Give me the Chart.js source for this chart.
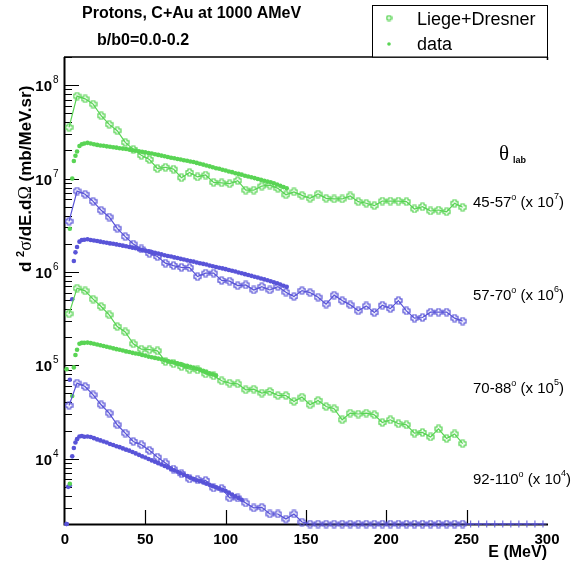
<!DOCTYPE html>
<html>
<head>
<meta charset="utf-8">
<script src="https://cdn.jsdelivr.net/npm/chart.js@4.4.1/dist/chart.umd.min.js"></script>
<style>
  html, body { margin: 0; padding: 0; background: #fff; }
  canvas { display: block; }
</style>
</head>
<body>
<canvas id="chart" width="576" height="564"></canvas>
<script>
const GREEN = '#59d454';
const BLUE = '#5954d8';
const SANS = '"Liberation Sans", Arial, sans-serif';
const SERIF = '"Liberation Serif", "Times New Roman", serif';

// Liege+Dresner bins (MeV)
const modelE = [2.5, 7.5, 12.5, 17.5, 22.5, 27.5, 32.5, 37.5, 42.5, 47.5,
  52.5, 57.5, 62.5, 67.5, 72.5, 77.5, 82.5, 87.5, 92.5, 97.5,
  102.5, 107.5, 112.5, 117.5, 122.5, 127.5, 132.5, 137.5, 142.5, 147.5,
  152.5, 157.5, 162.5, 167.5, 172.5, 177.5, 182.5, 187.5, 192.5, 197.5,
  202.5, 207.5, 212.5, 217.5, 222.5, 227.5, 232.5, 237.5, 242.5, 247.5,
  252.5, 257.5, 262.5, 267.5, 272.5, 277.5, 282.5, 287.5, 292.5, 297.5];

const model45 = [3.53e7, 7.63e7, 7.13e7, 6.26e7, 4.70e7, 3.80e7, 3.25e7, 2.44e7, 2.05e7, 1.77e7,
  1.60e7, 1.28e7, 1.32e7, 1.26e7, 1.02e7, 1.16e7, 1.04e7, 1.09e7, 9.1e6, 9.0e6,
  8.8e6, 9.5e6, 7.5e6, 7.5e6, 8.3e6, 8.5e6, 7.85e6, 6.7e6, 7.2e6, 6.6e6,
  6.14e6, 6.82e6, 6.14e6, 6.04e6, 6.04e6, 6.5e6, 5.65e6, 5.43e6, 5.12e6, 5.74e6,
  5.74e6, 5.74e6, 5.65e6, 4.72e6, 4.99e6, 4.49e6, 4.6e6, 4.41e6, 5.43e6, 4.92e6];

const model57 = [3.48e6, 7.35e6, 6.78e6, 5.70e6, 4.57e6, 3.87e6, 2.93e6, 2.39e6, 1.99e6, 1.76e6,
  1.58e6, 1.46e6, 1.24e6, 1.17e6, 1.12e6, 1.11e6, 8.9e5, 9.7e5, 9.7e5, 8.1e5,
  7.96e5, 7.13e5, 7.26e5, 6.41e5, 6.96e5, 6.41e5, 6.96e5, 6.07e5, 5.45e5, 6.31e5,
  6.01e5, 5.36e5, 4.52e5, 5.64e5, 4.93e5, 4.44e5, 3.83e5, 4.33e5, 3.67e5, 4.40e5,
  4.05e5, 4.93e5, 3.83e5, 3.20e5, 3.25e5, 3.71e5, 3.71e5, 3.71e5, 3.20e5, 2.97e5];

const model70 = [3.56e5, 6.70e5, 6.27e5, 5.11e5, 4.26e5, 3.47e5, 2.60e5, 2.28e5, 1.70e5, 1.49e5,
  1.47e5, 1.43e5, 1.10e5, 1.04e5, 9.7e4, 9.1e4, 8.95e4, 8.1e4, 7.72e4, 6.83e4,
  6.45e4, 6.34e4, 5.47e4, 5.56e4, 5.04e4, 5.25e4, 4.75e4, 4.75e4, 4.10e4, 4.57e4,
  3.78e4, 4.21e4, 3.62e4, 3.43e4, 2.61e4, 3.08e4, 3.01e4, 3.08e4, 2.96e4, 2.44e4,
  2.61e4, 2.37e4, 2.31e4, 1.88e4, 1.91e4, 1.71e4, 2.09e4, 1.65e4, 1.84e4, 1.45e4];

const model92 = [3.72e4, 6.45e4, 5.93e4, 4.83e4, 3.78e4, 3.08e4, 2.31e4, 1.88e4, 1.53e4, 1.41e4,
  1.23e4, 1.04e4, 9.0e3, 7.76e3, 6.92e3, 6.07e3, 5.96e3, 5.86e3, 4.86e3, 4.81e3,
  3.80e3, 3.80e3, 3.36e3, 2.97e3, 3.02e3, 2.56e3, 2.56e3, 2.26e3, 2.56e3, 2.10e3,
  2000, 2000, 2000, 2000, 2000, 2000, 2000, 2000, 2000, 2000,
  2000, 2000, 2000, 2000, 2000, 2000, 2000, 2000, 2000, 2000,
  2000, 2000, 2000, 2000, 2000, 2000, 2000, 2000, 2000, 2000];

// measured data energies (MeV)
const dataE = [1, 2, 3, 4.5, 5.5, 6.5, 7.5, 9, 10.5,
  12, 14, 16, 18, 20, 22, 24, 26, 28, 30, 32, 34, 36, 38, 40, 42, 44, 46, 48, 50,
  52, 54, 56, 58, 60, 62, 64, 66, 68, 70, 72, 74, 76, 78, 80, 82, 84, 86, 88, 90,
  92, 94, 96, 98, 100, 102, 104, 106, 108, 110, 112, 114, 116, 118, 120, 122, 124,
  126, 128, 130, 132, 134, 136, 138];

const data45 = [9.1e4, null, 2.9e6, 1.0e7, 1.54e7, 1.75e7, 1.95e7, 2.23e7, 2.33e7,
  2.37e7, 2.41e7, 2.37e7, 2.33e7, 2.29e7, 2.26e7, 2.24e7, 2.21e7, 2.19e7, 2.16e7,
  2.14e7, 2.11e7, 2.09e7, 2.07e7, 2.04e7, 2.01e7, 1.99e7, 1.96e7, 1.93e7, 1.91e7,
  1.87e7, 1.85e7, 1.82e7, 1.79e7, 1.76e7, 1.73e7, 1.70e7, 1.67e7, 1.65e7, 1.62e7,
  1.60e7, 1.57e7, 1.55e7, 1.52e7, 1.50e7, 1.47e7, 1.44e7, 1.41e7, 1.38e7, 1.35e7,
  1.32e7, 1.29e7, 1.27e7, 1.24e7, 1.22e7, 1.19e7, 1.17e7, 1.14e7, 1.12e7, 1.10e7,
  1.07e7, 1.05e7, 1.03e7, 1.01e7, 9.89e6, 9.68e6, 9.48e6, 9.29e6, 9.10e6, 8.91e6,
  8.63e6, 8.36e6, 8.09e6, 7.85e6];

const data57 = [2000, null, 7.0e4, 5.1e5, 1.31e6, 1.62e6, 1.85e6, 2.11e6, 2.2e6,
  2.21e6, 2.24e6, 2.20e6, 2.17e6, 2.14e6, 2.11e6, 2.08e6, 2.05e6, 2.02e6, 2.00e6,
  1.97e6, 1.94e6, 1.91e6, 1.88e6, 1.85e6, 1.82e6, 1.79e6, 1.75e6, 1.72e6, 1.69e6,
  1.66e6, 1.63e6, 1.60e6, 1.57e6, 1.54e6, 1.51e6, 1.48e6, 1.46e6, 1.43e6, 1.41e6,
  1.38e6, 1.36e6, 1.33e6, 1.31e6, 1.29e6, 1.26e6, 1.24e6, 1.22e6, 1.20e6, 1.17e6,
  1.15e6, 1.13e6, 1.11e6, 1.09e6, 1.07e6, 1.05e6, 1.03e6, 1.01e6, 9.86e5, 9.66e5,
  9.46e5, 9.27e5, 9.08e5, 8.89e5, 8.71e5, 8.51e5, 8.32e5, 8.13e5, 7.94e5, 7.76e5,
  7.55e5, 7.33e5, 7.11e5, 6.92e5];

const data70 = [null, null, 5.4e3, 4.7e4, 9.5e4, 1.29e5, 1.47e5, 1.70e5, 1.74e5,
  1.74e5, 1.75e5, 1.73e5, 1.70e5, 1.67e5, 1.64e5, 1.61e5, 1.58e5, 1.55e5, 1.52e5,
  1.49e5, 1.47e5, 1.44e5, 1.41e5, 1.39e5, 1.36e5, 1.34e5, 1.32e5, 1.29e5, 1.27e5,
  1.24e5, 1.22e5, 1.20e5, 1.18e5, 1.16e5, 1.13e5, 1.11e5, 1.09e5, 1.07e5, 1.05e5,
  1.03e5, 1.00e5, 9.86e4, 9.66e4, 9.46e4, 9.20e4, 8.95e4, 8.71e4, 8.45e4, 8.22e4,
  8.00e4, 7.76e4];

const data92 = [2000, 5.0e3, 5.2e3, 1.06e4, 1.30e4, 1.49e4, 1.62e4, 1.73e4, 1.75e4,
  1.72e4, 1.73e4, 1.71e4, 1.66e4, 1.61e4, 1.57e4, 1.53e4, 1.49e4, 1.44e4, 1.40e4,
  1.36e4, 1.33e4, 1.29e4, 1.25e4, 1.22e4, 1.18e4, 1.14e4, 1.10e4, 1.06e4, 1.03e4,
  9.93e3, 9.59e3, 9.29e3, 8.97e3, 8.67e3, 8.36e3, 8.07e3, 7.78e3, 7.52e3, 7.24e3,
  7.00e3, 6.75e3, 6.52e3, 6.28e3, 6.07e3, 5.89e3, 5.73e3, 5.56e3, 5.41e3, 5.25e3,
  5.09e3, 4.94e3, 4.80e3, 4.66e3, 4.52e3, 4.33e3, 4.14e3, 3.96e3, 3.80e3, 3.64e3];

const xTicks = [0, 50, 100, 150, 200, 250, 300];
const yDecades = [4, 5, 6, 7, 8];
const angleLabels = [['45-57', '7'], ['57-70', '6'], ['70-88', '5'], ['92-110', '4']];

function pts(xs, ys) {
  const out = [];
  ys.forEach((y, i) => { if (y !== null) out.push({x: xs[i], y: y}); });
  return out;
}

// open cross marker (ROOT style 28), outline only
function crossImg(color, s) {
  const c = document.createElement('canvas');
  c.width = c.height = s;
  const g = c.getContext('2d');
  const m = s / 2, a = s * 0.17, b = s / 2 - 1;
  g.beginPath();
  g.moveTo(m - a, m - b); g.lineTo(m + a, m - b); g.lineTo(m + a, m - a);
  g.lineTo(m + b, m - a); g.lineTo(m + b, m + a); g.lineTo(m + a, m + a);
  g.lineTo(m + a, m + b); g.lineTo(m - a, m + b); g.lineTo(m - a, m + a);
  g.lineTo(m - b, m + a); g.lineTo(m - b, m - a); g.lineTo(m - a, m - a);
  g.closePath();
  g.strokeStyle = color;
  g.lineWidth = 1.2;
  g.stroke();
  return c;
}

const crossG = crossImg(GREEN, 9);
const crossB = crossImg(BLUE, 9);
const crossSmall = crossImg(GREEN, 7);

function modelSet(vals, color, img) {
  return {
    data: pts(modelE, vals),
    showLine: true,
    borderColor: color,
    borderWidth: 1.2,
    backgroundColor: color,
    pointStyle: ctx => (ctx.raw && ctx.raw.x > 250) ? 'cross' : img,
    pointRadius: 3.5,
    pointBorderWidth: 1,
    clip: false
  };
}

function dataSet(vals, color) {
  return {
    data: pts(dataE, vals),
    showLine: false,
    pointStyle: 'circle',
    pointRadius: 2.3,
    pointBorderWidth: 0,
    backgroundColor: color,
    borderColor: color,
    clip: false
  };
}

function rich(ctx, x, y, parts, align) {
  let w = 0;
  parts.forEach(p => { ctx.font = p[1]; w += ctx.measureText(p[0]).width; });
  let cx = align === 'right' ? x - w : x;
  parts.forEach(p => {
    ctx.font = p[1];
    ctx.fillText(p[0], cx, y + (p[2] || 0));
    cx += ctx.measureText(p[0]).width;
  });
}

const frame = {
  id: 'frame',
  beforeDatasetsDraw(chart) {
    const ctx = chart.ctx, a = chart.chartArea;
    const xs = chart.scales.x, ys = chart.scales.y;
    ctx.save();
    ctx.strokeStyle = '#000';
    ctx.lineWidth = 2;
    ctx.beginPath();
    ctx.moveTo(a.left - 0.5, a.top);
    ctx.lineTo(a.left - 0.5, a.bottom + 0.5);
    ctx.lineTo(a.right + 1, a.bottom + 0.5);
    ctx.stroke();
    ctx.lineWidth = 1.5;
    ctx.beginPath();
    ctx.moveTo(a.left - 1, a.top);
    ctx.lineTo(a.right + 1, a.top);
    ctx.moveTo(a.right + 0.5, a.top);
    ctx.lineTo(a.right + 0.5, a.top + 3);
    ctx.stroke();
    // y ticks, inward
    ctx.lineWidth = 1.2;
    ctx.beginPath();
    for (let d = 3; d <= 8; d++) {
      for (let m = 1; m <= 9; m++) {
        const v = m * Math.pow(10, d);
        if (v < 2000 || v > 2e8) continue;
        const y = Math.round(ys.getPixelForValue(v)) + 0.5;
        const len = m === 1 ? 14 : 7;
        ctx.moveTo(a.left, y);
        ctx.lineTo(a.left + len, y);
      }
    }
    xTicks.forEach(t => {
      if (t === 0 || t === 300) return;
      const x = Math.round(xs.getPixelForValue(t)) + 0.5;
      ctx.moveTo(x, a.bottom);
      ctx.lineTo(x, a.bottom - 14);
    });
    ctx.stroke();
    ctx.restore();
  },
  afterDraw(chart) {
    const ctx = chart.ctx;
    const xs = chart.scales.x, ys = chart.scales.y;
    ctx.save();
    ctx.fillStyle = '#000';
    ctx.textBaseline = 'alphabetic';

    // titles
    ctx.font = 'bold 16px ' + SANS;
    ctx.textAlign = 'left';
    ctx.fillText('Protons, C+Au at 1000 AMeV', 82, 18);
    ctx.fillText('b/b0=0.0-0.2', 97, 45);

    // x tick labels
    ctx.font = 'bold 15px ' + SANS;
    ctx.textAlign = 'center';
    xTicks.forEach(t => ctx.fillText(String(t), xs.getPixelForValue(t), 544));
    ctx.textAlign = 'right';
    ctx.font = 'bold 16px ' + SANS;
    ctx.fillText('E (MeV)', 547, 557);

    // y tick labels
    ctx.textAlign = 'left';
    yDecades.forEach(d => {
      const y = ys.getPixelForValue(Math.pow(10, d));
      rich(ctx, 52, y + 6, [['10', 'bold 15px ' + SANS]], 'right');
      rich(ctx, 53, y - 2, [[String(d), '10px ' + SANS]]);
    });

    // y axis title
    ctx.save();
    ctx.translate(31, 272);
    ctx.rotate(-Math.PI / 2);
    rich(ctx, 0, 0, [
      ['d ', 'bold 17px ' + SANS],
      ['2', 'bold 11px ' + SANS, -7],
      ['σ', '18px ' + SERIF],
      ['/dE.d', 'bold 17px ' + SANS],
      ['Ω', '18px ' + SERIF],
      [' (mb/MeV.sr)', 'bold 17px ' + SANS]
    ]);
    ctx.restore();

    // theta label
    rich(ctx, 499, 160, [['θ', '21px ' + SERIF]]);
    rich(ctx, 513, 163, [['lab', 'bold 9px ' + SANS]]);

    // angle ranges and scale factors
    const labelY = [207, 300, 393, 484];
    angleLabels.forEach((l, i) => {
      rich(ctx, 473, labelY[i], [
        [l[0], '15px ' + SANS],
        ['o', '9px ' + SANS, -7],
        [' (x 10', '15px ' + SANS],
        [l[1], '9px ' + SANS, -8],
        [')', '15px ' + SANS]
      ]);
    });

    // legend
    ctx.fillStyle = '#fff';
    ctx.fillRect(372.5, 5.5, 175, 51.5);
    ctx.strokeStyle = '#000';
    ctx.lineWidth = 1;
    ctx.strokeRect(372.5, 5.5, 175, 51.5);
    ctx.drawImage(crossSmall, 389 - 3.5, 18 - 3.5);
    ctx.fillStyle = GREEN;
    ctx.beginPath();
    ctx.arc(389, 44, 1.8, 0, Math.PI * 2);
    ctx.fill();
    ctx.fillStyle = '#000';
    ctx.font = '18px ' + SANS;
    ctx.fillText('Liege+Dresner', 417, 25);
    ctx.fillText('data', 417, 50);
    ctx.restore();
  }
};

new Chart(document.getElementById('chart').getContext('2d'), {
  type: 'scatter',
  data: {
    datasets: [
      modelSet(model45, GREEN, crossG),
      modelSet(model57, BLUE, crossB),
      modelSet(model70, GREEN, crossG),
      modelSet(model92, BLUE, crossB),
      dataSet(data45, GREEN),
      dataSet(data57, BLUE),
      dataSet(data70, GREEN),
      dataSet(data92, BLUE)
    ]
  },
  options: {
    animation: false,
    responsive: false,
    devicePixelRatio: 1,
    layout: { padding: { left: 65, right: 29, top: 57, bottom: 40 } },
    scales: {
      x: { type: 'linear', min: 0, max: 300, display: false },
      y: { type: 'logarithmic', min: 2000, max: 2e8, display: false }
    },
    plugins: {
      legend: { display: false },
      tooltip: { enabled: false }
    }
  },
  plugins: [frame]
});
</script>
</body>
</html>
